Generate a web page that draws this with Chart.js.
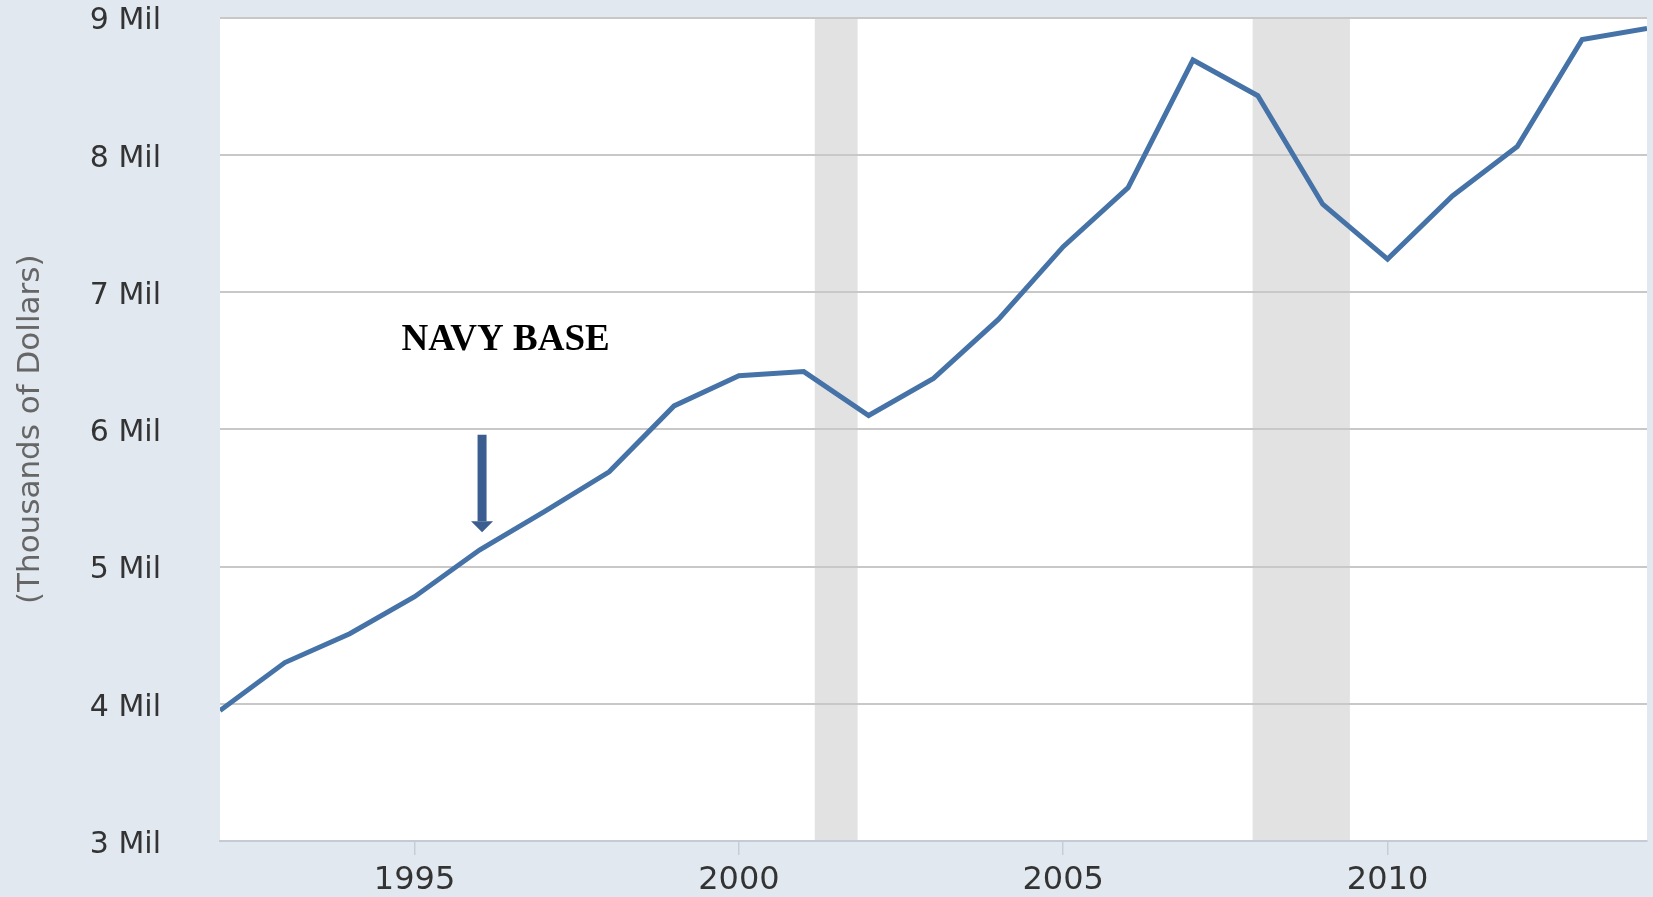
<!DOCTYPE html>
<html>
<head>
<meta charset="utf-8">
<script src="https://cdn.jsdelivr.net/npm/chart.js@4.4.1/dist/chart.umd.min.js"></script>
<style>
  html, body { margin: 0; padding: 0; background: #e1e8f0; }
  #wrap { width: 1653px; height: 897px; position: relative; }
</style>
</head>
<body>
<div id="wrap"><canvas id="c" width="1653" height="897"></canvas></div>
<script>
// ---- data ----
const years = [1992, 1993, 1994, 1995, 1996, 1997, 1998, 1999, 2000, 2001, 2002, 2003,
               2004, 2005, 2006, 2007, 2008, 2009, 2010, 2011, 2012, 2013, 2014];
const valuesMil = [3.95, 4.30, 4.51, 4.78, 5.12, 5.40, 5.69, 6.17, 6.39, 6.42, 6.10, 6.37,
                   6.80, 7.33, 7.76, 8.69, 8.43, 7.64, 7.24, 7.70, 8.06, 8.84, 8.92];
const xTickYears = [1995, 2000, 2005, 2010];
const yTickValues = [3, 4, 5, 6, 7, 8, 9];
const recessionStarts = [2001.17, 2007.92];
const recessionEnds = [2001.83, 2009.42];
const annotationText = 'NAVY BASE';
const annotationTextX = 1994.8;
const annotationTextY = 6.58;
const arrowX = 1996.04;
const arrowTopY = 5.96;
const arrowTipY = 5.25;
const yAxisTitle = '(Thousands of Dollars)';

const points = years.map((y, i) => ({ x: y, y: valuesMil[i] }));

const bgPlugin = {
  id: 'bgPlugin',
  beforeDraw(chart) {
    const { ctx, chartArea: a, scales: { x } } = chart;
    ctx.save();
    ctx.fillStyle = '#e1e8f0';
    ctx.fillRect(0, 0, chart.width, chart.height);
    ctx.fillStyle = '#ffffff';
    ctx.fillRect(a.left, a.top, a.right - a.left, a.bottom - a.top);
    ctx.fillStyle = '#e2e2e2';
    recessionStarts.forEach((s, i) => {
      const x0 = x.getPixelForValue(s);
      const x1 = x.getPixelForValue(recessionEnds[i]);
      ctx.fillRect(x0, a.top, x1 - x0, a.bottom - a.top);
    });
    ctx.restore();
  }
};

const annotPlugin = {
  id: 'annotPlugin',
  afterDatasetsDraw(chart) {
    const { ctx, scales: { x, y } } = chart;
    ctx.save();
    ctx.fillStyle = '#000000';
    ctx.font = 'bold 37px "Liberation Serif", "Times New Roman", serif';
    ctx.textBaseline = 'alphabetic';
    ctx.textAlign = 'left';
    ctx.fillText(annotationText, x.getPixelForValue(annotationTextX), y.getPixelForValue(annotationTextY));
    const ax = x.getPixelForValue(arrowX);
    const top = y.getPixelForValue(arrowTopY);
    const tip = y.getPixelForValue(arrowTipY);
    const headH = 11, headW = 22, shaftW = 9;
    ctx.fillStyle = '#3b5d8f';
    ctx.fillRect(ax - shaftW / 2, top, shaftW, tip - headH - top);
    ctx.beginPath();
    ctx.moveTo(ax - headW / 2, tip - headH);
    ctx.lineTo(ax + headW / 2, tip - headH);
    ctx.lineTo(ax, tip);
    ctx.closePath();
    ctx.fill();
    ctx.restore();
  }
};

new Chart(document.getElementById('c'), {
  type: 'line',
  data: {
    datasets: [{
      data: points,
      borderColor: '#4572a7',
      borderWidth: 5,
      pointRadius: 0,
      tension: 0,
      fill: false
    }]
  },
  options: {
    responsive: false,
    animation: false,
    events: [],
    layout: { padding: { top: 17.5, right: 6, left: 0, bottom: 0 } },
    plugins: { legend: { display: false }, tooltip: { enabled: false } },
    scales: {
      x: {
        type: 'linear',
        min: years[0],
        max: years[years.length - 1],
        afterBuildTicks(s) { s.ticks = xTickYears.map(v => ({ value: v })); },
        afterFit(s) { s.height = 56; s.paddingLeft = 0; s.paddingRight = 0; },
        grid: { drawOnChartArea: false, drawTicks: true, tickLength: 14, color: '#c5ced8', lineWidth: 1.5 },
        border: { display: true, color: '#c3ccd6', width: 2 },
        ticks: {
          padding: 6,
          maxRotation: 0,
          color: '#333333',
          font: { family: '"DejaVu Sans", Verdana, sans-serif', size: 32 },
          callback: v => String(v)
        }
      },
      y: {
        type: 'linear',
        min: yTickValues[0],
        max: yTickValues[yTickValues.length - 1],
        afterBuildTicks(s) { s.ticks = yTickValues.map(v => ({ value: v })); },
        afterFit(s) { s.width = 220; s.paddingTop = 0; s.paddingBottom = 0; },
        grid: { color: '#c8c8c8', lineWidth: 2, drawTicks: false },
        border: { display: false },
        ticks: {
          padding: 59,
          labelOffset: 4,
          color: '#333333',
          font: { family: '"DejaVu Sans", Verdana, sans-serif', size: 30 },
          callback: v => v + ' Mil'
        },
        title: {
          display: true,
          text: yAxisTitle,
          color: '#666666',
          padding: { top: 12, bottom: 0 },
          font: { family: '"DejaVu Sans", Verdana, sans-serif', size: 31 }
        }
      }
    }
  },
  plugins: [bgPlugin, annotPlugin]
});
</script>
</body>
</html>
